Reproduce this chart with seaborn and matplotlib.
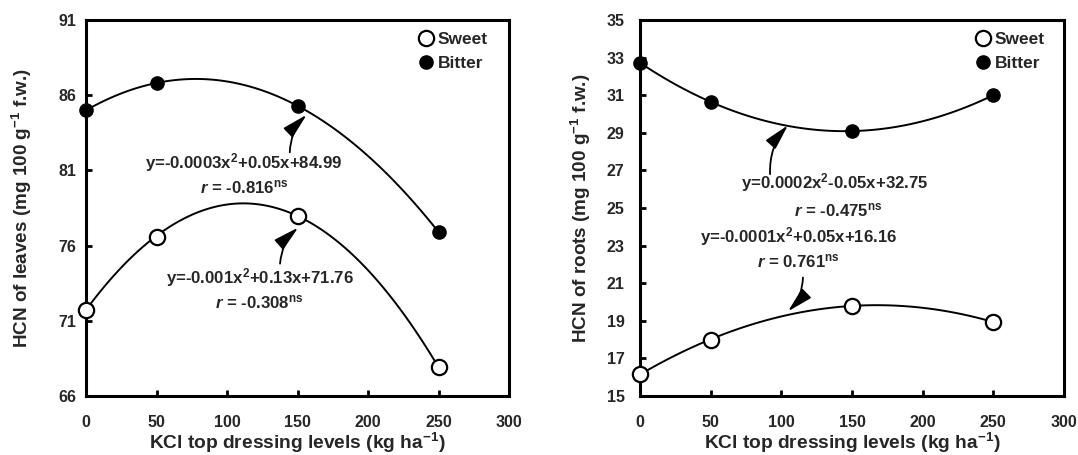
import numpy as np
import pandas as pd
import matplotlib
matplotlib.use("Agg")
import matplotlib.pyplot as plt
import seaborn as sns

# ---- data ----
kcl_levels = [0, 50, 150, 250]
leaves_sweet = [71.75, 76.6, 78.0, 67.9]
leaves_bitter = [85.0, 86.8, 85.3, 76.9]
roots_sweet = [16.15, 18.0, 19.8, 18.93]
roots_bitter = [32.73, 30.63, 29.1, 31.0]

x_ticks = [0, 50, 100, 150, 200, 250, 300]
leaves_yticks = [66, 71, 76, 81, 86, 91]
roots_yticks = [15, 17, 19, 21, 23, 25, 27, 29, 31, 33, 35]

leaves_eq_bitter = r"y=-0.0003x$^{2}$+0.05x+84.99"
leaves_r_bitter = r"$\it{r}$ = -0.816$^{\rm ns}$"
leaves_eq_sweet = r"y=-0.001x$^{2}$+0.13x+71.76"
leaves_r_sweet = r"$\it{r}$ = -0.308$^{\rm ns}$"
roots_eq_bitter = r"y=0.0002x$^{2}$-0.05x+32.75"
roots_r_bitter = r"$\it{r}$ = -0.475$^{\rm ns}$"
roots_eq_sweet = r"y=-0.0001x$^{2}$+0.05x+16.16"
roots_r_sweet = r"$\it{r}$ = 0.761$^{\rm ns}$"

sns.set_theme(style="white")
plt.rcParams["font.family"] = ["Liberation Sans", "DejaVu Sans"]
plt.rcParams["font.weight"] = "bold"
plt.rcParams["mathtext.fontset"] = "custom"
plt.rcParams["mathtext.rm"] = "Liberation Sans:bold"
plt.rcParams["mathtext.bf"] = "Liberation Sans:bold"
plt.rcParams["mathtext.it"] = "Liberation Sans:italic"
plt.rcParams["mathtext.default"] = "rm"

fig = plt.figure(figsize=(10.78, 4.55), dpi=100)
ax1 = fig.add_axes([0.0798, 0.1297, 0.3924, 0.8264])
ax2 = fig.add_axes([0.5937, 0.1297, 0.3933, 0.8264])


def draw_panel(ax, sweet, bitter, yticks, ylabel, ypad, ylab_x, leg_x):
    df = pd.DataFrame({"x": kcl_levels, "sweet": sweet, "bitter": bitter})
    for col in ["sweet", "bitter"]:
        sns.regplot(data=df, x="x", y=col, order=2, ci=None, scatter=False,
                    ax=ax, line_kws=dict(color="black", lw=1.4))
    ax.plot(kcl_levels, sweet, "o", ms=11, mfc="white", mec="black", mew=1.6,
            clip_on=False, zorder=5, label="Sweet")
    ax.plot(kcl_levels, bitter, "o", ms=9.5, mfc="black", mec="black",
            clip_on=False, zorder=5, label="Bitter")
    ax.set_xlim(0, 300)
    ax.set_ylim(yticks[0], yticks[-1])
    ax.set_xticks(x_ticks)
    ax.set_yticks(yticks)
    ax.tick_params(direction="in", length=4, width=2, labelsize=11.5,
                   bottom=True, left=True, color="black")
    ax.tick_params(axis="x", pad=14)
    ax.tick_params(axis="y", pad=ypad)
    for lbl in ax.get_xticklabels() + ax.get_yticklabels():
        lbl.set_fontweight("bold")
    for s in ax.spines.values():
        s.set_linewidth(2.2)
        s.set_color("black")
    ax.set_xlabel(r"KCl top dressing levels (kg ha$^{-1}$)", fontsize=13.8,
                  fontweight="bold")
    ax.set_ylabel(ylabel, fontsize=13.6, fontweight="bold")
    ax.xaxis.set_label_coords(0.5, -0.125)
    ax.xaxis.label.set_verticalalignment("center")
    ax.yaxis.set_label_coords(ylab_x, 0.5)
    ax.yaxis.label.set_verticalalignment("center")
    leg = ax.legend(loc="upper right", bbox_to_anchor=(leg_x, 0.968),
                    frameon=False, fontsize=12.5, borderpad=0,
                    borderaxespad=0, handletextpad=0.2, labelspacing=0.5,
                    handlelength=1.0)
    for t in leg.get_texts():
        t.set_fontweight("bold")


draw_panel(ax1, leaves_sweet, leaves_bitter, leaves_yticks,
           r"HCN of leaves (mg 100 g$^{-1}$ f.w.)", 7, -0.151, 0.95)
draw_panel(ax2, roots_sweet, roots_bitter, roots_yticks,
           r"HCN of roots (mg 100 g$^{-1}$ f.w.)", 11, -0.139, 0.955)

tkw = dict(ha="center", va="center", fontsize=12.1, fontweight="bold")
akw = dict(arrowstyle="-|>,head_length=1.3,head_width=0.33", color="black",
           lw=1.3, shrinkA=0, shrinkB=0)
cs = "arc3,rad=-0.2"

# left panel annotations
ax1.text(112, 81.5, leaves_eq_bitter, **tkw)
ax1.text(112, 79.9, leaves_r_bitter, **tkw)
ax1.annotate("", xy=(156.5, 84.7), xytext=(144.5, 82.2),
             arrowprops=dict(connectionstyle=cs, **akw))
ax1.text(123, 73.9, leaves_eq_sweet, **tkw)
ax1.text(123, 72.2, leaves_r_sweet, **tkw)
ax1.annotate("", xy=(150.5, 77.2), xytext=(137.6, 74.8),
             arrowprops=dict(connectionstyle=cs, **akw))

# right panel annotations
ax2.text(138, 26.35, roots_eq_bitter, **tkw)
ax2.text(140, 24.9, roots_r_bitter, **tkw)
ax2.annotate("", xy=(104.7, 29.4), xytext=(92, 26.8),
             arrowprops=dict(connectionstyle=cs, **akw))
ax2.text(112, 23.5, roots_eq_sweet, **tkw)
ax2.text(112, 22.16, roots_r_sweet, **tkw)
ax2.annotate("", xy=(104.7, 19.5), xytext=(115.3, 21.3),
             arrowprops=dict(connectionstyle=cs, **akw))

fig.savefig("out.png", dpi=100)
